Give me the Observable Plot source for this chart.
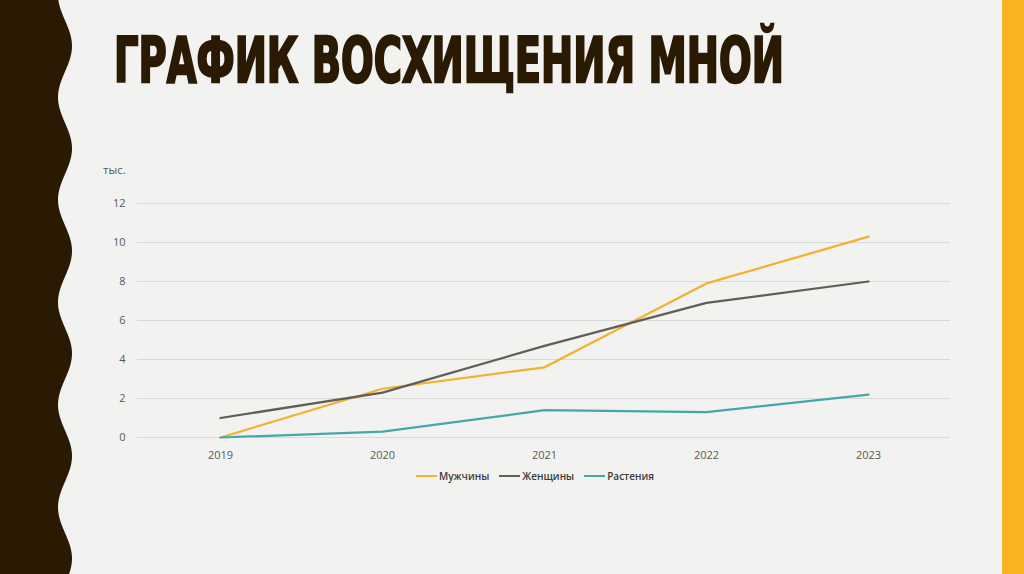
<!DOCTYPE html>
<html><head><meta charset="utf-8">
<script src="https://cdn.jsdelivr.net/npm/d3@7"></script>
<script src="https://cdn.jsdelivr.net/npm/@observablehq/plot@0.6"></script>
<style>
html,body{margin:0;padding:0;background:#f2f2f0;}
#slide{position:relative;width:1024px;height:574px;background:#f2f2f0;overflow:hidden;font-family:"Open Sans",sans-serif;}
#deco{position:absolute;left:0;top:0;}
#unit{position:absolute;left:103px;top:162px;font-size:11.5px;color:#595959;}
#chart{position:absolute;left:0;top:150px;}
#legend{position:absolute;left:416px;top:469px;display:flex;align-items:center;font-size:10px;color:#3a3a3a;font-weight:600;}
#legend .item{display:flex;align-items:center;margin-right:10px;}
#legend .sw{width:21px;height:2.5px;margin-right:2px;}
</style></head><body>
<div id="slide">
<svg id="deco" width="1024" height="574">
  <rect x="1002" y="0" width="22" height="574" fill="#f8b323"/>
  <path id="wave" fill="#2a1a03"/>
  <g id="titleg"><text id="title" x="0" y="0" fill="#2a1a03" stroke="#2a1a03" stroke-width="2.4" stroke-linejoin="miter"
    style="font-family:'DejaVu Sans Condensed','DejaVu Sans',sans-serif;font-weight:bold;font-size:62px;">ГРАФИК ВОСХИЩЕНИЯ МНОЙ</text></g>
</svg>
<div id="unit">тыс.</div>
<div id="chart"></div>
<div id="legend"></div>
</div>
<script>
const years = ["2019", "2020", "2021", "2022", "2023"];
const men = [0, 2.5, 3.6, 7.9, 10.3];
const women = [1.0, 2.3, 4.7, 6.9, 8.0];
const plants = [0, 0.3, 1.4, 1.3, 2.2];
const seriesNames = ["Мужчины", "Женщины", "Растения"];
const seriesColors = ["#f2b12f", "#5f5f55", "#43a8a8"];
const yTicks = [0, 2, 4, 6, 8, 10, 12];

// decorative wavy border
const wavePts = [[0, 0]];
for (let y = 0; y <= 574; y += 2) wavePts.push([65 + 7 * Math.cos(2 * Math.PI * (y - 46) / 102.5), y]);
wavePts.push([0, 574]);
document.getElementById("wave").setAttribute("d", d3.line()(wavePts) + "Z");

// fit title width
const titleEl = document.getElementById("title");
const tw = titleEl.getComputedTextLength();
document.getElementById("titleg").setAttribute("transform", `translate(114,82) scale(${670 / tw},1)`);

const seriesValues = [men, women, plants];
const data = [];
seriesNames.forEach((s, i) => years.forEach((yr, j) => data.push({series: s, year: yr, value: seriesValues[i][j]})));

const chart = Plot.plot({
  width: 1024, height: 317,
  marginLeft: 137, marginRight: 74, marginTop: 53, marginBottom: 30,
  style: {background: "transparent", fontFamily: "'Open Sans', sans-serif", fontSize: "11px", color: "#595959"},
  x: {type: "point", domain: years, padding: 0.5, label: null},
  y: {domain: [0, 12], label: null},
  color: {domain: seriesNames, range: seriesColors},
  marks: [
    Plot.gridY(yTicks, {stroke: "#d9d9d9", strokeOpacity: 1, strokeWidth: 1}),
    Plot.axisX({tickSize: 0, tickPadding: 14, label: null}),
    Plot.axisY(yTicks, {tickSize: 0, tickPadding: 12, label: null}),
    Plot.lineY(data, {x: "year", y: "value", z: "series", stroke: "series", strokeWidth: 2.25})
  ]
});
document.getElementById("chart").appendChild(chart);

const legend = document.getElementById("legend");
seriesNames.forEach((s, i) => {
  const item = document.createElement("div");
  item.className = "item";
  const sw = document.createElement("span");
  sw.className = "sw";
  sw.style.background = seriesColors[i];
  const t = document.createElement("span");
  t.textContent = s;
  item.appendChild(sw); item.appendChild(t);
  legend.appendChild(item);
});
</script>
</body></html>
